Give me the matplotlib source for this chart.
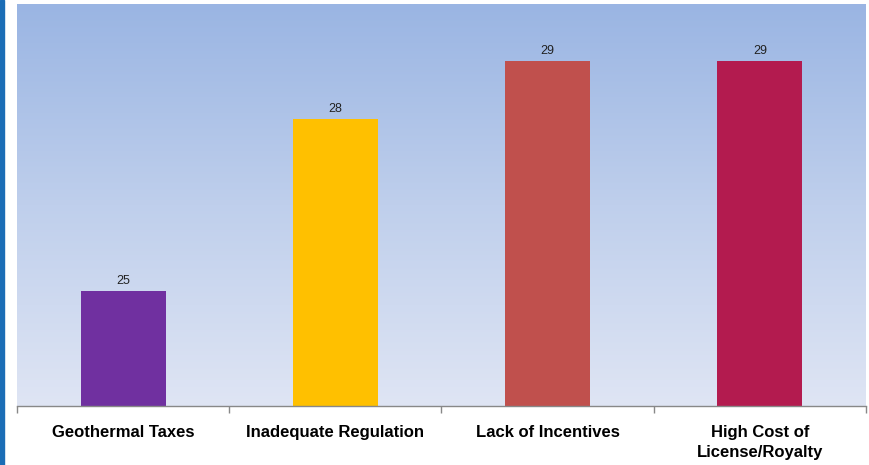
import numpy as np
import matplotlib
matplotlib.use("Agg")
import matplotlib.pyplot as plt
from matplotlib.colors import LinearSegmentedColormap
from matplotlib.patches import Rectangle

plt.rcParams['font.family'] = ['Liberation Sans', 'DejaVu Sans']

categories = ["Geothermal Taxes", "Inadequate Regulation", "Lack of Incentives",
              "High Cost of\nLicense/Royalty"]
values = [25, 28, 29, 29]
bar_colors = ["#7030a0", "#ffc000", "#c0504d", "#b31b4f"]

W, H = 870, 465
fig = plt.figure(figsize=(W / 100, H / 100), dpi=100)

# blue accent stripe at the left edge
fig.patches.append(Rectangle((0, 0), 4 / W, 1, transform=fig.transFigure,
                             color="#1b6db6", zorder=0))

left, right, top, bottom = 17, 866, 4, 406
ax = fig.add_axes([left / W, 1 - bottom / H, (right - left) / W, (bottom - top) / H])

ymin, ymax = 23, 30
n = len(categories)
ax.set_xlim(-0.5, n - 0.5)
ax.set_ylim(ymin, ymax)

# vertical gradient background
grad = LinearSegmentedColormap.from_list("bg", ["#dfe5f4", "#bfcfec", "#9ab5e3"])
ax.imshow(np.linspace(0, 1, 256).reshape(-1, 1), aspect="auto", cmap=grad,
          origin="lower", extent=(-0.5, n - 0.5, ymin, ymax), zorder=0)

x = np.arange(n)
bars = ax.bar(x, values, width=0.4, color=bar_colors, zorder=2)
for xi, v in zip(x, values):
    ax.annotate(f"{v}", (xi, v), xytext=(0, 3), textcoords="offset points",
                ha="center", va="bottom", fontsize=9, color="#222222")

for s in ["top", "right", "left"]:
    ax.spines[s].set_visible(False)
ax.spines["bottom"].set_color("#888888")
ax.spines["bottom"].set_linewidth(1.0)
ax.set_yticks([])

ax.set_xticks(np.arange(-0.5, n, 1.0))
ax.set_xticklabels([])
ax.tick_params(axis="x", length=5, color="#888888", width=1)
ax.set_xticks(x, minor=True)
ax.set_xticklabels(categories, minor=True, fontsize=12, fontweight="bold",
                   va="top", linespacing=1.4)
ax.tick_params(axis="x", which="minor", length=0, pad=13.5)

fig.savefig("out.png", dpi=100)
